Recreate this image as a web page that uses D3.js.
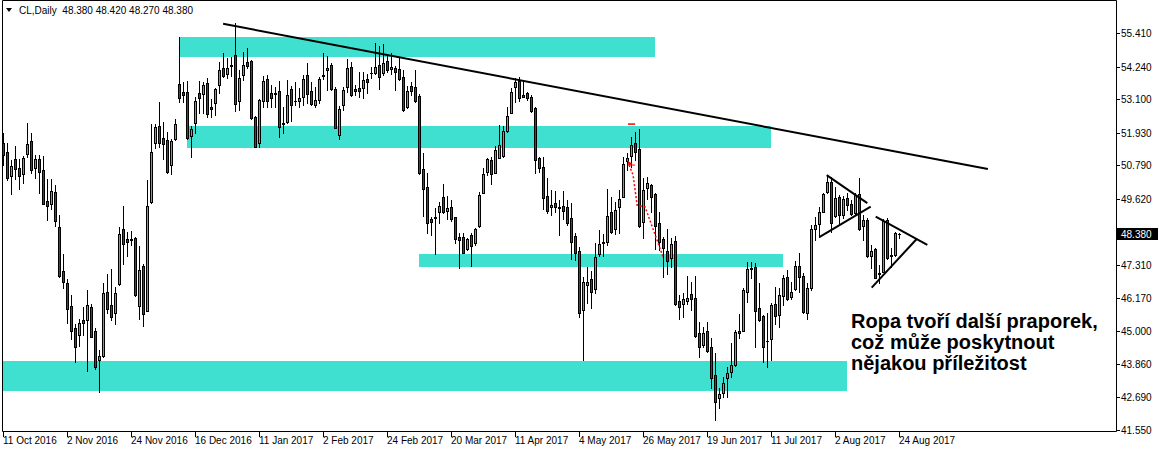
<!DOCTYPE html>
<html><head><meta charset="utf-8">
<script src="https://cdn.jsdelivr.net/npm/d3@7"></script>
<style>
html,body{margin:0;padding:0;background:#fff;}
svg{display:block;}
</style></head><body>
<svg id="chart" width="1159" height="452"></svg>
<script>
const opens = [51.57,51.25,50.42,51.01,50.70,50.49,51.18,51.64,50.70,51.01,50.63,49.55,49.44,49.86,48.64,47.10,46.68,45.88,45.11,44.87,45.39,45.39,45.85,45.01,44.00,44.14,46.37,45.92,45.64,46.65,48.57,48.22,48.18,48.25,45.88,47.28,45.71,49.51,51.57,52.16,51.74,51.67,50.80,51.71,53.63,53.35,53.35,51.81,52.27,53.31,53.28,53.66,52.83,52.97,53.59,54.19,53.98,54.26,54.64,53.03,53.94,54.40,54.43,52.48,51.57,53.03,53.80,53.31,53.31,53.38,52.27,52.30,53.45,53.03,53.03,53.17,53.94,53.38,52.90,53.07,53.94,54.12,54.29,53.45,51.85,52.90,53.52,54.22,53.45,53.49,53.49,53.80,54.01,54.01,54.29,54.01,54.43,54.15,54.19,54.15,53.87,52.83,53.56,53.52,53.21,50.66,50.03,48.92,48.99,49.16,49.68,49.20,49.33,48.99,48.29,48.29,47.87,48.36,48.08,48.67,49.82,50.56,50.98,50.52,51.04,51.11,51.99,52.62,53.52,53.73,53.24,53.31,53.17,52.79,51.04,50.73,49.72,49.33,49.47,49.33,49.37,49.33,48.95,48.32,47.80,45.74,46.61,46.82,46.47,47.70,48.08,48.11,49.16,48.57,49.33,49.68,50.94,51.11,51.57,51.36,48.81,50.00,50.10,49.79,48.78,48.22,47.80,47.56,48.15,46.06,45.95,46.06,46.30,46.16,44.94,44.52,45.01,44.45,43.47,42.67,42.85,43.37,43.58,43.82,45.01,45.01,46.37,47.17,47.24,45.81,45.53,44.66,44.73,45.95,45.57,46.23,46.89,46.20,46.47,47.28,46.93,45.64,46.51,48.57,48.74,49.16,49.86,50.21,49.02,49.68,49.05,49.65,49.44,49.12,49.79,48.67,48.88,47.63,47.87,47.03,47.07,48.88,47.66,47.66,48.38];
const highs = [51.92,51.57,50.98,51.46,51.01,51.11,52.27,51.92,51.15,51.15,51.11,50.31,50.31,50.10,49.05,47.70,46.82,46.27,45.25,45.43,45.85,46.44,45.95,45.11,44.34,46.68,47.00,47.17,46.54,48.64,49.37,48.46,48.50,48.29,47.97,47.35,50.28,52.23,52.23,53.00,52.30,51.95,51.71,52.41,55.27,53.70,53.73,52.16,53.17,53.73,53.70,53.84,53.10,53.49,54.40,54.71,54.54,54.57,55.76,54.12,54.75,54.88,54.47,52.51,53.10,53.91,53.94,53.59,53.52,53.73,52.83,53.77,53.56,53.70,53.49,53.94,54.36,53.70,53.52,53.87,54.71,54.61,54.36,53.52,52.86,53.52,54.50,54.40,53.59,54.05,54.05,53.98,54.22,55.06,54.95,55.02,54.64,54.71,54.26,54.54,54.12,53.56,53.70,54.12,53.28,51.22,50.52,48.99,49.30,49.51,50.14,49.72,49.58,48.99,48.43,48.43,48.25,48.43,48.60,49.86,50.70,51.04,51.08,51.46,52.20,52.16,52.83,53.49,53.84,53.87,53.77,53.35,53.24,52.83,51.08,51.08,50.35,49.93,49.89,49.58,49.89,49.58,49.47,48.43,47.94,46.89,47.24,47.10,48.08,48.53,48.39,49.96,49.68,49.51,49.93,51.08,51.22,51.78,51.95,52.06,50.35,50.38,50.14,49.82,49.16,48.29,48.57,48.25,48.32,46.27,46.34,46.93,46.72,46.93,45.32,45.15,45.32,44.76,44.24,43.02,43.40,43.75,44.59,45.04,45.60,46.51,47.42,47.42,47.38,46.68,45.57,45.64,45.99,46.54,46.51,46.96,47.14,46.72,47.45,47.73,47.03,46.68,48.71,49.00,49.33,49.82,50.45,50.38,50.03,49.75,49.72,49.82,49.58,49.82,50.35,49.05,48.95,48.01,47.91,47.31,48.92,48.95,47.91,48.46,48.42];
const lows = [50.81,50.28,49.79,50.31,49.96,50.17,51.08,50.52,50.35,49.82,49.44,48.88,49.27,48.67,46.89,46.51,45.29,44.73,43.93,44.48,44.87,43.61,44.80,43.68,42.88,44.10,45.64,45.39,45.25,46.61,47.35,47.63,48.01,46.23,45.43,45.18,45.71,49.48,51.39,51.43,51.01,50.52,50.49,51.67,53.00,53.00,51.71,51.08,51.92,52.62,52.62,52.48,52.48,52.55,53.31,53.87,53.84,53.91,52.69,52.72,53.77,54.19,52.41,51.43,51.43,52.83,52.83,52.83,52.83,51.78,51.92,52.27,52.34,52.90,52.83,52.90,52.97,52.90,52.83,52.97,53.80,53.42,53.42,52.09,51.71,52.72,53.35,53.21,53.24,53.17,53.14,53.31,53.84,53.98,53.45,53.94,54.05,53.98,53.42,53.77,52.69,52.79,53.24,53.00,50.49,49.02,48.43,48.36,47.70,48.78,49.12,48.92,48.85,48.08,47.21,47.73,47.84,47.28,48.01,48.64,49.82,50.45,50.14,50.52,51.04,51.08,51.95,52.62,53.00,53.03,53.17,53.07,52.65,50.52,50.56,49.27,49.12,49.05,49.16,48.36,48.92,48.71,47.52,47.49,45.50,44.00,45.99,45.81,46.33,47.63,47.63,48.01,48.43,48.39,48.43,49.68,50.63,50.73,50.98,48.64,48.25,49.61,49.16,47.87,47.83,46.89,46.99,47.24,45.92,45.43,45.50,45.95,45.74,44.80,44.10,44.45,44.27,43.02,41.90,42.32,42.71,42.71,43.40,43.79,44.76,45.01,46.02,46.86,44.45,45.36,43.93,43.75,44.00,45.25,45.15,45.92,46.09,46.13,46.44,46.37,45.64,45.43,46.44,48.20,48.29,49.16,49.82,48.46,48.99,48.78,48.95,49.23,49.05,49.05,48.53,48.18,47.59,47.21,46.86,46.68,47.07,47.52,47.24,47.63,48.27];
const closes = [51.15,50.35,50.77,50.66,50.42,51.04,51.53,50.63,51.01,50.56,49.44,49.37,49.89,48.85,46.93,46.72,45.77,45.01,44.45,45.29,45.29,45.92,44.80,43.75,44.14,46.34,45.77,45.50,46.34,48.39,48.04,48.11,48.22,46.27,47.14,45.60,49.37,51.25,52.13,51.57,51.53,50.56,51.64,52.23,53.14,53.25,51.74,52.06,53.03,53.14,53.59,52.58,52.76,53.45,54.12,53.91,54.19,54.29,52.93,53.84,54.29,54.26,52.44,51.43,53.07,53.73,53.03,53.14,53.28,52.13,52.23,53.24,52.90,53.03,53.14,53.80,53.28,52.93,53.07,53.80,53.91,54.19,53.45,52.09,52.76,53.42,54.19,53.24,53.38,53.38,53.77,53.70,54.01,54.22,53.87,54.36,54.12,54.22,54.05,53.80,52.72,53.38,53.38,53.03,50.52,49.96,48.78,48.81,48.95,49.37,49.16,49.30,48.92,48.22,48.18,47.73,48.22,47.97,48.57,49.75,50.49,51.01,50.49,51.32,51.50,51.99,52.51,53.35,53.70,53.14,53.17,53.14,52.69,50.98,50.70,49.65,49.20,49.40,49.33,49.30,49.20,48.78,48.11,47.73,45.64,46.72,46.72,46.37,47.59,48.04,48.11,49.02,48.46,49.23,49.61,50.84,51.04,51.50,51.25,48.67,49.93,50.17,49.68,48.67,48.11,47.91,47.45,48.04,45.95,45.85,46.13,46.16,46.13,44.83,44.45,44.94,44.31,43.37,42.53,42.81,43.19,43.54,43.82,44.97,44.94,46.44,47.17,47.21,45.71,45.39,44.45,44.66,45.92,45.53,46.27,46.86,46.13,46.37,47.28,46.89,45.67,46.51,48.57,48.71,49.16,49.79,50.21,48.78,49.65,49.05,49.61,49.40,49.09,49.75,48.57,48.88,47.63,47.80,46.86,47.00,48.85,47.56,47.63,48.43,48.38];

const priceTicks = [55.41,54.24,53.10,51.93,50.79,49.62,48.48,47.31,46.17,45.00,43.86,42.69,41.55];
const dateLabels = ["11 Oct 2016","2 Nov 2016","24 Nov 2016","16 Dec 2016","11 Jan 2017","2 Feb 2017","24 Feb 2017","20 Mar 2017","11 Apr 2017","4 May 2017","26 May 2017","19 Jun 2017","11 Jul 2017","2 Aug 2017","24 Aug 2017"];
const dateTickBars = [0,16,32,48,64,80,96,112,128,144,160,176,192,208,224];
const lastPrice = 48.38;
const headerText = "CL,Daily  48.380 48.420 48.270 48.380";

const zoneStartBar = [43.9,45.9,103.9,-0.2];
const zoneEndBar = [162.9,191.9,194.9,210.9];
const zoneTop = [55.27,52.16,47.70,43.96];
const zoneBottom = [54.57,51.39,47.24,42.92];

const trendBar1 = [54.9,205.8,203.95,218.05,217.05];
const trendPrice1 = [55.73,50.45,48.28,49.00,46.52];
const trendBar2 = [246.1,215.95,216.8,230.95,228.3];
const trendPrice2 = [50.66,49.47,49.35,48.01,48.22];

const projBars = [156.4,157.4,158.4,160.4,164.9];
const projPrices = [50.80,50.45,49.40,49.34,47.59];

const noteLines = ["Ropa tvoří další praporek,","což může poskytnout","nějakou příležitost"];

const W = 1159, H = 452;
const plotL = 2, plotR = 1116, plotT = 0, plotB = 431;
const svg = d3.select("#chart");
const x = d3.scaleLinear().domain([0, 224]).range([3.5, 899.5]);
const y = d3.scaleLinear().domain([41.55, 55.41]).range([430, 33]);
const bullColor = "#22dd22", bearColor = "#ee0000", zoneColor = "#40e0d0";

svg.append("rect").attr("width", W).attr("height", H).attr("fill", "#fff");

// zones
const zg = svg.append("g");
zoneTop.forEach((t, k) => {
  const x0 = Math.round(x(zoneStartBar[k])), x1 = Math.round(x(zoneEndBar[k]));
  const y0 = Math.round(y(t)), y1 = Math.round(y(zoneBottom[k]));
  zg.append("rect").attr("x", x0).attr("y", y0).attr("width", x1 - x0).attr("height", y1 - y0)
    .attr("fill", zoneColor).attr("shape-rendering", "crispEdges");
});

// candles
const cg = svg.append("g");
opens.forEach((o, i) => {
  const c = closes[i], h = highs[i], l = lows[i];
  const px = Math.floor(x(i));
  const xc = px + 0.5;
  const yh = Math.round(y(h)), yl = Math.round(y(l));
  cg.append("line").attr("x1", xc).attr("x2", xc).attr("y1", yh).attr("y2", yl + 1)
    .attr("stroke", "#000").attr("stroke-width", 1);
  const top = Math.round(y(Math.max(o, c))), bot = Math.round(y(Math.min(o, c)));
  if (bot - top < 1) {
    cg.append("line").attr("x1", px - 1).attr("x2", px + 2).attr("y1", top + 0.5).attr("y2", top + 0.5)
      .attr("stroke", "#000").attr("stroke-width", 1);
  } else {
    cg.append("rect").attr("x", px - 0.5).attr("y", top + 0.5).attr("width", 2).attr("height", bot - top)
      .attr("fill", c >= o ? bullColor : bearColor).attr("stroke", "#000").attr("stroke-width", 1);
  }
});

// trend lines
const tg = svg.append("g");
trendBar1.forEach((b, k) => {
  tg.append("line").attr("x1", x(b)).attr("y1", y(trendPrice1[k]))
    .attr("x2", x(trendBar2[k])).attr("y2", y(trendPrice2[k]))
    .attr("stroke", "#000").attr("stroke-width", 2);
});

// red projection
const line = d3.line().x((d) => x(d[0])).y((d) => y(d[1]));
svg.append("path").datum(projBars.map((b, k) => [b, projPrices[k]]))
  .attr("d", line).attr("fill", "none").attr("stroke", "#ff0000").attr("stroke-width", 1.5)
  .attr("stroke-dasharray", "2,2");
svg.append("line").attr("x1", x(156.1)).attr("x2", x(157.9)).attr("y1", y(52.23)).attr("y2", y(52.23))
  .attr("stroke", "#ff0000").attr("stroke-width", 1.5);
svg.append("line").attr("x1", x(156.4)).attr("x2", x(157.9)).attr("y1", y(50.80)).attr("y2", y(50.80))
  .attr("stroke", "#ff0000").attr("stroke-width", 1);
svg.append("path").attr("d", `M${x(156.0)},${y(50.95)} l5,3 l-4,2 z`).attr("fill", "#ff0000");

// frame
svg.append("path").attr("d", `M${plotL + 0.5},${plotB + 0.5} V${plotT + 0.5} H${plotR + 0.5} V${plotB + 0.5} H${plotL + 0.5}`)
  .attr("fill", "none").attr("stroke", "#000").attr("stroke-width", 1);

// price axis
const ag = svg.append("g").attr("font-family", "Liberation Sans, Arial, sans-serif").attr("font-size", 10);
priceTicks.forEach((p) => {
  const yy = Math.round(y(p)) + 0.5;
  ag.append("line").attr("x1", plotR + 1).attr("x2", plotR + 4).attr("y1", yy).attr("y2", yy).attr("stroke", "#000");
  ag.append("text").attr("x", plotR + 5).attr("y", yy).attr("dy", "0.35em").attr("fill", "#000").text(p.toFixed(3));
});
const ly = Math.round(y(lastPrice));
ag.append("rect").attr("x", plotR + 1).attr("y", ly - 6).attr("width", 41).attr("height", 12).attr("fill", "#000");
ag.append("text").attr("x", plotR + 5).attr("y", ly + 0.5).attr("dy", "0.35em").attr("fill", "#fff").text(lastPrice.toFixed(3));

// date axis
dateTickBars.forEach((b, k) => {
  const xx = Math.floor(x(b)) + 0.5;
  ag.append("line").attr("x1", xx).attr("x2", xx).attr("y1", plotB + 1).attr("y2", plotB + 6).attr("stroke", "#000");
  ag.append("text").attr("x", xx - 0.5).attr("y", 444).attr("fill", "#000").text(dateLabels[k]);
});

// header
svg.append("path").attr("d", "M6,8 h6 l-3,4 z").attr("fill", "#000");
svg.append("text").attr("x", 19).attr("y", 14).attr("font-family", "Liberation Sans, Arial, sans-serif")
  .attr("font-size", 10).attr("fill", "#000").attr("xml:space", "preserve").style("white-space", "pre").text(headerText);

// note
const ng = svg.append("text").attr("font-family", "Liberation Sans, Arial, sans-serif").attr("font-weight", "bold")
  .attr("font-size", 20).attr("fill", "#000");
noteLines.forEach((t, k) => {
  ng.append("tspan").attr("x", 851).attr("y", 328 + k * 21).text(t);
});
</script>
</body></html>
